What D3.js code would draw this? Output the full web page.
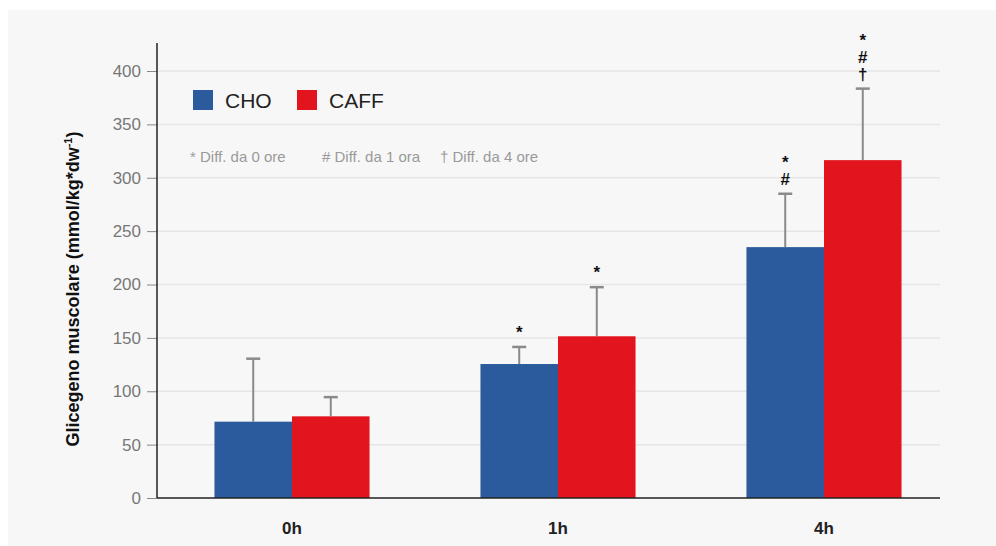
<!DOCTYPE html>
<html>
<head>
<meta charset="utf-8">
<script src="https://cdn.jsdelivr.net/npm/d3@7"></script>
<style>
  html, body { margin: 0; padding: 0; background: #fff; }
  svg { display: block; font-family: "Liberation Sans", Arial, sans-serif; }
</style>
</head>
<body>
<svg id="chart" width="996" height="546"></svg>
<script>
// data
const times = ['0h', '1h', '4h'];
const groups = ['CHO', 'CAFF'];
const choMean = [71.5, 125.5, 235];
const choSD = [59, 16, 50];
const caffMean = [76.5, 151.5, 316.5];
const caffSD = [18, 46, 67];
const choMarks = [[], ['*'], ['*', '#']];
const caffMarks = [[], ['*'], ['*', '#', '†']];
const yTicks = [0, 50, 100, 150, 200, 250, 300, 350, 400];
const notes = ['* Diff. da 0 ore', '# Diff. da 1 ora', '† Diff. da 4 ore'];

const colors = { CHO: '#2b5b9c', CAFF: '#e2151f' };

const rows = times.map((t, i) => ({
  time: t,
  values: [
    { group: 'CHO', mean: choMean[i], sd: choSD[i], marks: choMarks[i] },
    { group: 'CAFF', mean: caffMean[i], sd: caffSD[i], marks: caffMarks[i] }
  ]
}));

const svg = d3.select('#chart');
const width = 996;
const height = 546;
const margin = { top: 43, right: 56, bottom: 48, left: 157 };

// panel background
svg.append('rect')
  .attr('x', 8).attr('y', 10)
  .attr('width', width - 8).attr('height', height - 10)
  .attr('fill', '#f7f7f7');

const y = d3.scaleLinear()
  .domain([0, 400])
  .range([height - margin.bottom, 71]);

const x = d3.scaleBand()
  .domain(times)
  .range([159, 957])
  .paddingInner(0.417)
  .paddingOuter(0.2085);

const xs = d3.scaleBand()
  .domain(groups)
  .range([0, x.bandwidth()]);

// gridlines
svg.append('g')
  .selectAll('line')
  .data(yTicks.filter(d => d > 0))
  .join('line')
  .attr('x1', margin.left)
  .attr('x2', width - margin.right)
  .attr('y1', d => y(d))
  .attr('y2', d => y(d))
  .attr('stroke', '#e6e6e6')
  .attr('stroke-width', 1.5);

// legend
const legend = svg.append('g').attr('transform', 'translate(193,90)');
const lg = legend.selectAll('g')
  .data(groups)
  .join('g')
  .attr('transform', (d, i) => `translate(${i * 104},0)`);
lg.append('rect')
  .attr('width', 20).attr('height', 20)
  .attr('fill', d => colors[d]);
lg.append('text')
  .attr('x', 32).attr('y', 18)
  .attr('font-size', 21)
  .attr('fill', '#222')
  .text(d => d);

svg.append('g')
  .selectAll('text')
  .data(notes)
  .join('text')
  .attr('x', (d, i) => [190, 322, 440][i])
  .attr('y', 162)
  .attr('font-size', 15)
  .attr('fill', '#9a9a9a')
  .text(d => d);

// bars
const grp = svg.append('g')
  .selectAll('g')
  .data(rows)
  .join('g')
  .attr('transform', d => `translate(${x(d.time)},0)`);

const bar = grp.selectAll('g')
  .data(d => d.values)
  .join('g');

// error bars (upper only)
bar.append('line')
  .attr('x1', d => xs(d.group) + xs.bandwidth() / 2)
  .attr('x2', d => xs(d.group) + xs.bandwidth() / 2)
  .attr('y1', d => y(d.mean))
  .attr('y2', d => y(d.mean + d.sd))
  .attr('stroke', '#8a8a8a')
  .attr('stroke-width', 2);
bar.append('line')
  .attr('x1', d => xs(d.group) + xs.bandwidth() / 2 - 7)
  .attr('x2', d => xs(d.group) + xs.bandwidth() / 2 + 7)
  .attr('y1', d => y(d.mean + d.sd))
  .attr('y2', d => y(d.mean + d.sd))
  .attr('stroke', '#8a8a8a')
  .attr('stroke-width', 2.5);

bar.append('rect')
  .attr('x', d => xs(d.group))
  .attr('width', xs.bandwidth())
  .attr('y', d => y(d.mean))
  .attr('height', d => y(0) - y(d.mean))
  .attr('fill', d => colors[d.group]);

// significance marks, stacked above the error bar
bar.each(function (d) {
  const n = d.marks.length;
  d3.select(this).selectAll('text.mark')
    .data(d.marks)
    .join('text')
    .attr('class', 'mark')
    .attr('x', xs(d.group) + xs.bandwidth() / 2)
    .attr('y', (m, i) => y(d.mean + d.sd) - 9 - (n - 1 - i) * 17)
    .attr('text-anchor', 'middle')
    .attr('font-size', 17)
    .attr('font-weight', 'bold')
    .attr('fill', '#111')
    .text(m => m);
});

// axes
const yAxis = svg.append('g')
  .attr('transform', `translate(${margin.left},0)`)
  .call(d3.axisLeft(y).tickValues(yTicks).tickSize(10).tickPadding(6).tickSizeOuter(0));
yAxis.select('.domain').remove();
yAxis.selectAll('.tick line').attr('stroke', '#888');
yAxis.selectAll('.tick text')
  .attr('font-size', 17)
  .attr('fill', '#777')
  .attr('font-family', '"Liberation Sans", Arial, sans-serif');

svg.append('line')
  .attr('x1', margin.left).attr('x2', margin.left)
  .attr('y1', margin.top).attr('y2', y(0))
  .attr('stroke', '#222').attr('stroke-width', 1.5);
svg.append('line')
  .attr('x1', margin.left).attr('x2', 940)
  .attr('y1', y(0)).attr('y2', y(0))
  .attr('stroke', '#222').attr('stroke-width', 1.5);

const xAxis = svg.append('g')
  .attr('transform', `translate(0,${y(0)})`)
  .call(d3.axisBottom(x).tickSize(0).tickPadding(24));
xAxis.select('.domain').remove();
xAxis.selectAll('.tick text')
  .attr('font-size', 17)
  .attr('font-weight', 'bold')
  .attr('fill', '#222')
  .attr('font-family', '"Liberation Sans", Arial, sans-serif');

// y label
const yl = svg.append('text')
  .attr('transform', 'translate(79,289) rotate(-90)')
  .attr('text-anchor', 'middle')
  .attr('font-size', 18)
  .attr('font-weight', 'bold')
  .attr('fill', '#111');
yl.append('tspan').text('Glicegeno muscolare (mmol/kg*dw');
yl.append('tspan').attr('font-size', 11).attr('dy', -7).text('-1');
yl.append('tspan').attr('dy', 7).text(')');
</script>
</body>
</html>
